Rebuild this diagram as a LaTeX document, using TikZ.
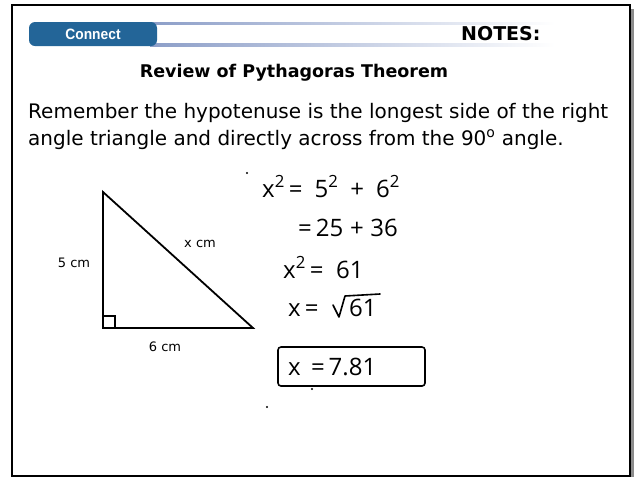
\documentclass[tikz,border=0pt]{standalone}
\usepackage{fontspec}
\setmainfont{DejaVu Sans}
\newfontfamily\handfont{Open Sans}
\newfontfamily\tabfont{Liberation Sans}
\usetikzlibrary{positioning}
\definecolor{tabblue}{RGB}{35,101,152}
\definecolor{barblue}{RGB}{140,158,200}
\definecolor{shadowgray}{RGB}{140,140,140}

\begin{document}
\begin{tikzpicture}[x=1pt, y=-1pt,
    ink/.style={line width=1.6pt, line cap=round, line join=round},
    handtext/.style={font=\handfont\fontsize{24}{26}\selectfont, inner sep=0pt, anchor=base west},
    lenlabel/.style={font=\fontsize{13}{15}\selectfont, inner sep=0pt},
    bodytext/.style={font=\fontsize{20}{24}\selectfont, inner sep=0pt, anchor=base west}]
    \useasboundingbox (0,0) rectangle (637,477);

    % Draw page
    \fill[shadowgray] (630,9) rectangle (634,477);
    \draw[line width=2.2pt] (12,5) rectangle (630,476);

    % Draw header
    \shade[left color=barblue, right color=white] (150,22) rectangle (555,46);
    \fill[white] (150,25) rectangle (555,43);
    \node[fill=tabblue, rounded corners=6pt, minimum width=128pt, minimum height=24pt, inner sep=0pt,
          font=\tabfont\bfseries\fontsize{15}{17}\selectfont, text=white] (tab) at (93,34) {\scalebox{0.92}[1]{Connect}};
    \node[font=\bfseries\fontsize{19}{21}\selectfont, inner sep=0pt, anchor=base west] (notes) at (461,40) {NOTES:};

    % Title and text
    \node[font=\bfseries\fontsize{17.5}{20}\selectfont, inner sep=0pt, anchor=base] (title) at (294,77) {Review of Pythagoras Theorem};
    \node[bodytext] (line1) at (28,118) {Remember the hypotenuse is the longest side of the right};
    \node[bodytext] (line2) at (28,145) {angle triangle and directly across from the 90\textsuperscript{o} angle.};

    % Draw triangle
    \coordinate (top) at (103,192);
    \coordinate (corner) at (103,328);
    \coordinate (tip) at (253,328);
    \draw[line width=1.8pt, line join=miter] (top) -- (corner) -- (tip) -- cycle;
    \draw[line width=1.5pt] (103,316) -- (115,316) -- (115,328);

    % Labels
    \node[lenlabel] (side5) at (74,263) {5 cm};
    \node[lenlabel] (sidex) at (200,244) {x cm};
    \node[lenlabel] (side6) at (165,347) {6 cm};

    % Working
    \node[handtext] (eq1) at (262,197) {x\textsuperscript{2}\,=\enspace5\textsuperscript{2}\enspace+\enspace6\textsuperscript{2}};
    \node[handtext] (eq2) at (298,236) {=\,25\;+\;36};
    \node[handtext] (eq3) at (283,278) {x\textsuperscript{2}\,=\ \ 61};
    \node[handtext] (eq4) at (288,316) {x\,=};
    \node[handtext] (root) at (349,316) {61};
    \draw[ink] (333,305) -- (339,317) -- (345,296) -- (380,294);
    \node[handtext] (eq5) at (288,375) {x\ \,=\,7.81};
    \draw[ink, rounded corners=3pt] (278,347) rectangle (425,386);

    % Stray dots
    \fill (247,173) circle (1.2pt);
    \fill (312,389) circle (1.2pt);
    \fill (267,407) circle (1.2pt);
\end{tikzpicture}
\end{document}
